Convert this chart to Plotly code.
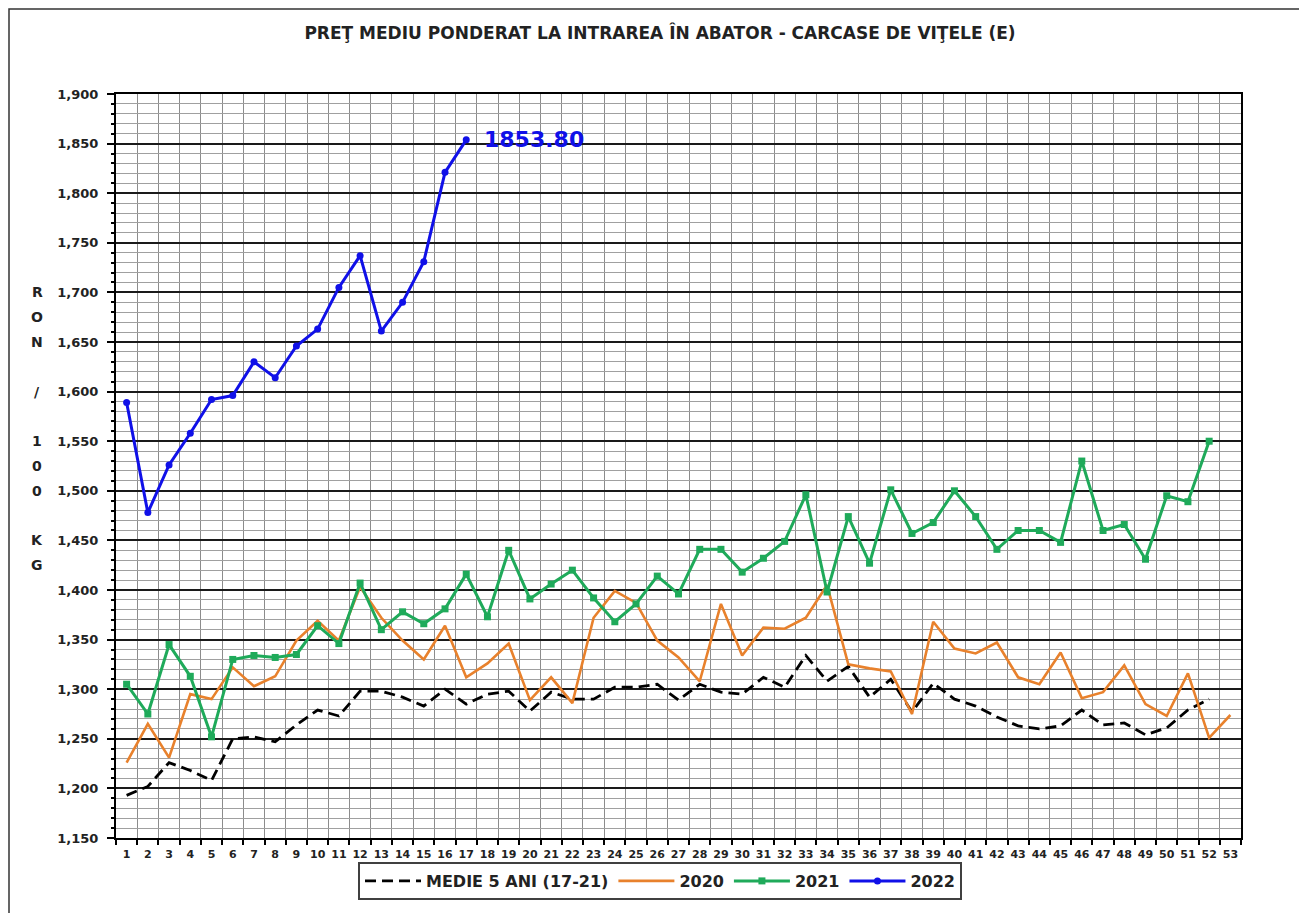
import plotly.graph_objects as go

weeks = list(range(1, 54))
week_labels = [str(w) for w in weeks]

medie_5_ani = [1193, 1202, 1226, 1218, 1208, 1250, 1252, 1247, 1264, 1279,
               1273, 1298, 1298, 1292, 1283, 1300, 1285, 1295, 1298, 1278,
               1297, 1290, 1290, 1302, 1302, 1305, 1289, 1305, 1297, 1295,
               1312, 1302, 1334, 1308, 1323, 1292, 1310, 1277, 1306, 1290,
               1283, 1272, 1263, 1260, 1263, 1279, 1264, 1266, 1254, 1261,
               1279, 1290]

an_2020 = [1226, 1265, 1231, 1295, 1290, 1322, 1303, 1313, 1349, 1369,
           1349, 1403, 1372, 1349, 1330, 1364, 1312, 1326, 1346, 1289,
           1312, 1286, 1372, 1399, 1387, 1349, 1332, 1308, 1386, 1334,
           1362, 1361, 1372, 1405, 1325, 1321, 1318, 1275, 1368, 1341,
           1336, 1347, 1312, 1305, 1337, 1291, 1297, 1324, 1285, 1273,
           1316, 1251, 1274]

an_2021 = [1305, 1275, 1345, 1313, 1252, 1330, 1334, 1332, 1335, 1364,
           1346, 1407, 1360, 1378, 1366, 1381, 1416, 1373, 1440, 1391,
           1406, 1420, 1392, 1368, 1386, 1414, 1396, 1441, 1441, 1418,
           1432, 1449, 1496, 1398, 1474, 1427, 1501, 1457, 1468, 1500,
           1474, 1441, 1460, 1460, 1448, 1530, 1460, 1466, 1431, 1495,
           1489, 1550]

an_2022 = [1589, 1478, 1526, 1558, 1592, 1596, 1630, 1614, 1646, 1663,
           1705, 1737, 1661, 1690, 1731, 1821, 1853.80]

y_title_letters = ["R", "O", "N", "/", "1", "0", "0", "K", "G"]
y_title_levels = [1700, 1675, 1650, 1600, 1550, 1525, 1500, 1450, 1425]

FONT = "DejaVu Sans"
BLUE = "#1010E8"
GREEN = "#1FAA5A"
ORANGE = "#E8812C"

# page has an 8px body margin: figure origin is at page (8, 8)
OFF = 8
W, H = 1307 - OFF, 913 - OFF
PL, PT, PW, PH = 116, 94, 1125, 744   # plot area in page pixels

fig = go.Figure()
fig.add_trace(go.Scatter(x=weeks[:len(medie_5_ani)], y=medie_5_ani, mode="lines",
                         name="MEDIE 5 ANI (17-21)",
                         line=dict(color="black", width=2.8, dash="11px,6px")))
fig.add_trace(go.Scatter(x=weeks[:len(an_2020)], y=an_2020, mode="lines", name="2020",
                         line=dict(color=ORANGE, width=2.6)))
fig.add_trace(go.Scatter(x=weeks[:len(an_2021)], y=an_2021, mode="lines+markers", name="2021",
                         line=dict(color=GREEN, width=3),
                         marker=dict(symbol="square", size=7, color=GREEN)))
fig.add_trace(go.Scatter(x=weeks[:len(an_2022)], y=an_2022, mode="lines+markers", name="2022",
                         line=dict(color=BLUE, width=3),
                         marker=dict(symbol="circle", size=7, color=BLUE)))

fig.add_annotation(x=len(an_2022), y=an_2022[-1], xref="x", yref="y",
                   text="%.2f" % an_2022[-1], showarrow=False, xanchor="left",
                   yanchor="middle", xshift=16,
                   font=dict(family=FONT, size=22, color=BLUE, weight="bold"))

for letter, lvl in zip(y_title_letters, y_title_levels):
    fig.add_annotation(x=(37 - PL) / PW, y=lvl, xref="paper", yref="y", text=letter,
                       showarrow=False, xanchor="center", yanchor="middle",
                       font=dict(family=FONT, size=14, color="#222222", weight="bold"))

# outer frame
fig.add_shape(type="rect", xref="paper", yref="paper",
              x0=(9 - PL) / PW, x1=(1302 - PL) / PW,
              y0=(PT + PH - 920) / PH, y1=(PT + PH - 9) / PH,
              line=dict(color="#333333", width=1.5), layer="below")

fig.update_layout(
    width=W, height=H,
    margin=dict(l=PL - OFF, r=W - (PL - OFF) - PW, t=PT - OFF, b=H - (PT - OFF) - PH),
    paper_bgcolor="white", plot_bgcolor="white",
    title=dict(text="PREŢ MEDIU PONDERAT LA INTRAREA ÎN ABATOR - CARCASE DE VIŢELE (E)",
               x=(660 - OFF) / W, xanchor="center", y=1 - (33 - OFF) / H, yanchor="middle",
               font=dict(family=FONT, size=17, color="#222222", weight="bold")),
    showlegend=True,
    legend=dict(orientation="h", x=(660 - PL) / PW, xanchor="center",
                y=(PT + PH - 862) / PH, yanchor="top",
                bordercolor="#404040", borderwidth=2,
                font=dict(family=FONT, size=16, color="#222222", weight="bold"),
                itemwidth=56, traceorder="normal"),
    xaxis=dict(range=[0.5, 53.5], tickmode="array", tickvals=weeks, ticktext=week_labels,
               showgrid=False, ticks="", zeroline=False,
               showline=True, linecolor="black", linewidth=2, mirror=True,
               ticklabelstandoff=5,
               tickfont=dict(family=FONT, size=11, color="#222222", weight="bold"),
               minor=dict(tick0=0.5, dtick=1, showgrid=True, gridcolor="#8c8c8c",
                          gridwidth=1, ticks="outside", ticklen=5, tickcolor="black",
                          tickwidth=1.5)),
    yaxis=dict(range=[1150, 1900], dtick=50, tick0=1150, tickformat=",d",
               showgrid=True, gridcolor="#1a1a1a", gridwidth=1.6, zeroline=False,
               showline=True, linecolor="black", linewidth=2, mirror=True,
               ticks="outside", ticklen=7, tickcolor="black", tickwidth=1.5,
               ticklabelstandoff=6,
               tickfont=dict(family=FONT, size=13, color="#222222", weight="bold"),
               minor=dict(dtick=10, showgrid=True, gridcolor="#a0a0a0", gridwidth=1,
                          ticks="outside", ticklen=3, tickcolor="black")),
)

fig.write_html("out.html")
